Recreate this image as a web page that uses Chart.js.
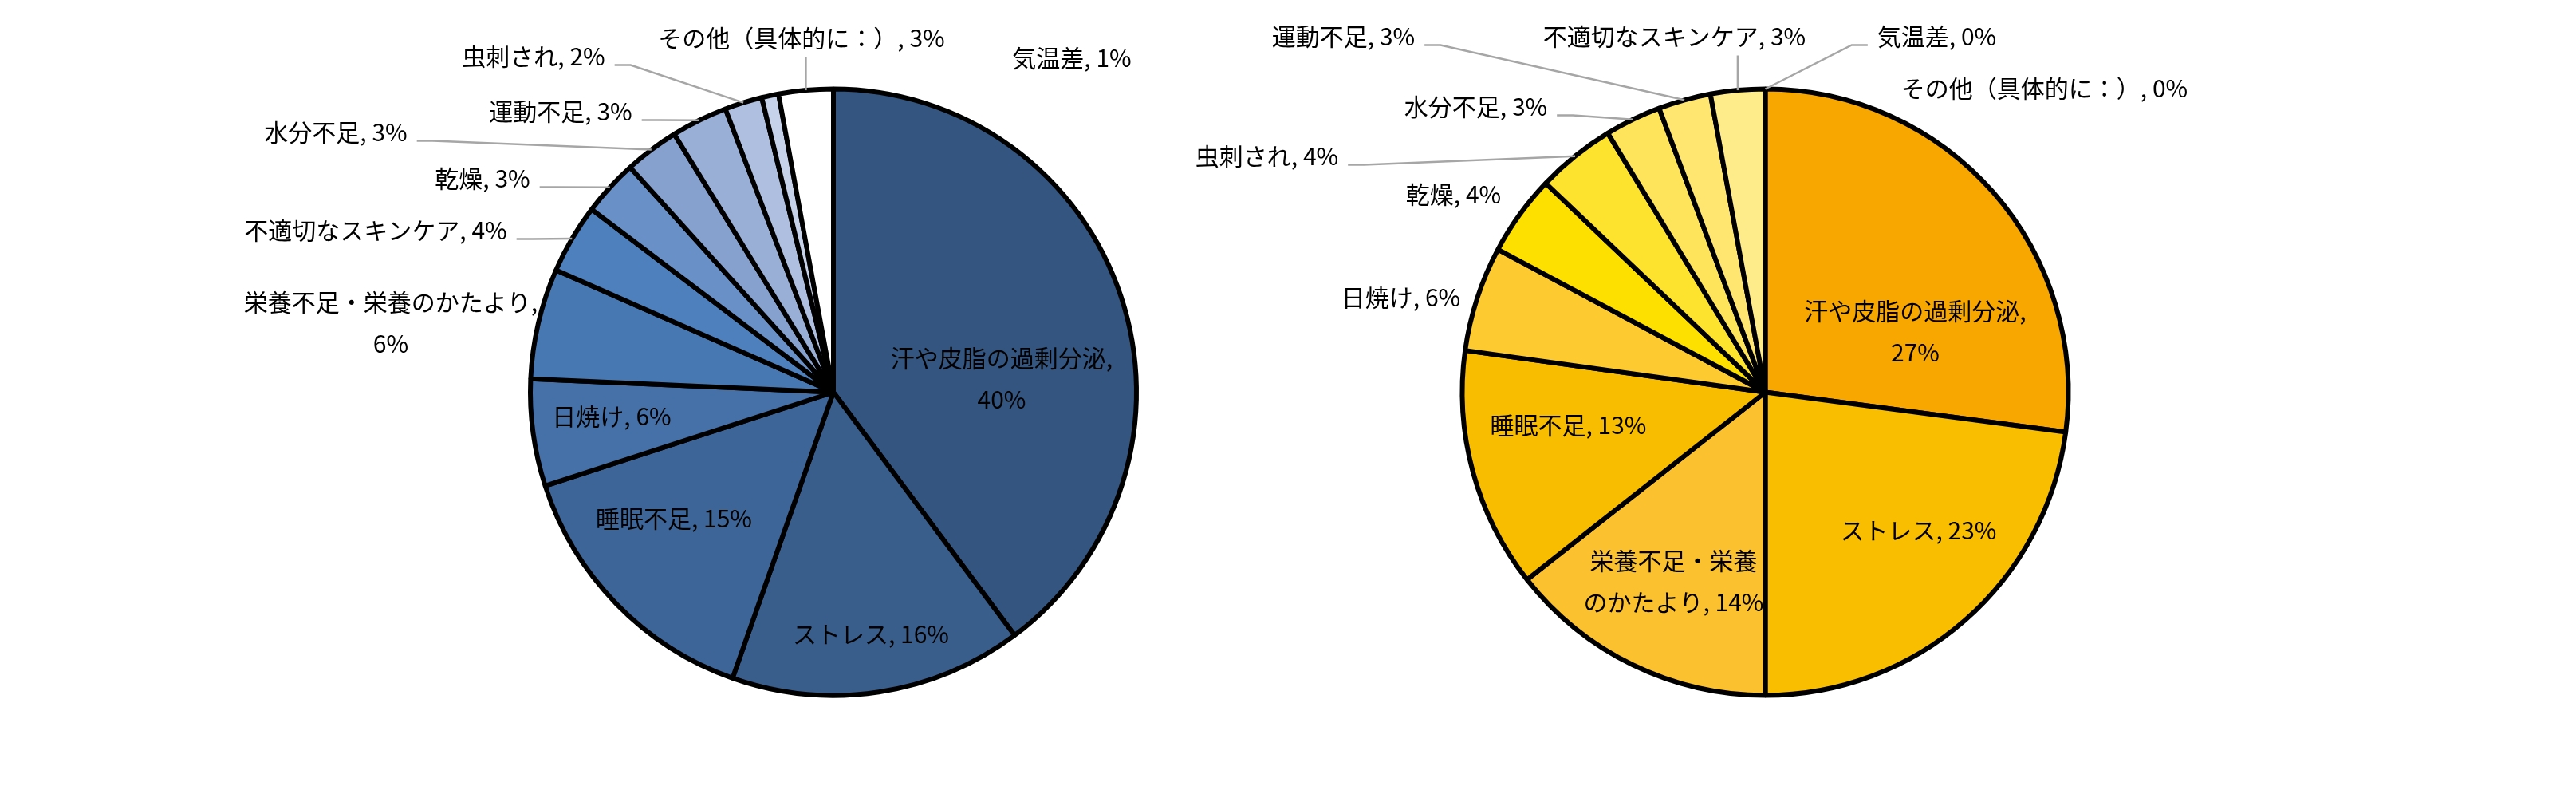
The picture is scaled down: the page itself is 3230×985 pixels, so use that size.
<!DOCTYPE html>
<html lang="ja">
<head>
<meta charset="utf-8">
<title>肌トラブルの原因</title>
<script src="https://cdn.jsdelivr.net/npm/chart.js@4.4.1/dist/chart.umd.min.js"></script>
<style>
  html, body { margin: 0; padding: 0; background: #fff; }
  #wrap { position: relative; width: 3230px; height: 985px; overflow: hidden; }
  #wrap canvas { position: absolute; left: 0; top: 0; }
</style>
</head>
<body>
<div id="wrap">
  <canvas id="leftChart" width="3230" height="985"></canvas>
  <canvas id="rightChart" width="3230" height="985"></canvas>
</div>
<script>
// ==========================================
// DADOS
// ==========================================
const categoriesLeft = ['汗や皮脂の過剰分泌', 'ストレス', '睡眠不足', '日焼け', '栄養不足・栄養のかたより',
  '不適切なスキンケア', '乾燥', '水分不足', '運動不足', '虫刺され', '気温差', 'その他（具体的に：）'];
const valuesLeft = [39.8, 15.6, 14.6, 5.7, 5.9, 3.7, 3.0, 2.9, 3.0, 2.0, 0.9, 2.9];
const colorsLeft = ['#33557f', '#3a5e8b', '#3e6598', '#4571a8', '#4878b1', '#4e80bd',
  '#6990c7', '#86a1cd', '#9aafd6', '#afbfdf', '#c6d2e9', '#ffffff'];

const categoriesRight = ['汗や皮脂の過剰分泌', 'ストレス', '栄養不足・栄養のかたより', '睡眠不足', '日焼け',
  '乾燥', '虫刺され', '水分不足', '運動不足', '不適切なスキンケア', '気温差', 'その他（具体的に：）'];
const valuesRight = [27.1, 22.9, 14.4, 12.8, 5.6, 4.3, 4.2, 3.0, 2.8, 2.9, 0, 0];
const colorsRight = ['#f8a600', '#f9be00', '#fcc12e', '#f9bd00', '#fdcb2f', '#fde000',
  '#fde22e', '#fee45a', '#fee670', '#feeb8a', '#fff1a8', '#fff5c0'];

// posição dos rótulos (deslocamento a partir do centro da pizza), br = quebra de linha
const labelLayoutLeft = [
  { dx: 211, dy: -17, br: 10 },
  { dx: 47, dy: 303 },
  { dx: -200, dy: 158 },
  { dx: -278, dy: 30 },
  { dx: -555, dy: -87, br: 13 },
  { dx: -574, dy: -203, leader: true },
  { dx: -440, dy: -268, leader: true },
  { dx: -624, dy: -326, leader: true },
  { dx: -342, dy: -352, leader: true },
  { dx: -376, dy: -421, leader: true },
  { dx: 299, dy: -419 },
  { dx: -40, dy: -444, leader: true }
];
const labelLayoutRight = [
  { dx: 188, dy: -76, br: 10 },
  { dx: 192, dy: 173 },
  { dx: -115, dy: 237, br: 7 },
  { dx: -247, dy: 41 },
  { dx: -457, dy: -119 },
  { dx: -391, dy: -248 },
  { dx: -625, dy: -296, leader: true },
  { dx: -363, dy: -358, leader: true },
  { dx: -529, dy: -446, leader: true },
  { dx: -114, dy: -446, leader: true },
  { dx: 215, dy: -446, leader: true },
  { dx: 350, dy: -381 }
];

// ==========================================
// PLUGIN DOS RÓTULOS COM LINHAS DE CHAMADA
// ==========================================
const pieLabels = {
  id: 'pieLabels',
  afterDatasetsDraw(chart, args, opts) {
    const ctx = chart.ctx;
    const meta = chart.getDatasetMeta(0);
    const vals = chart.data.datasets[0].data;
    const total = vals.reduce((a, b) => a + b, 0);
    ctx.save();
    ctx.font = opts.font;
    ctx.textAlign = 'center';
    ctx.textBaseline = 'middle';
    meta.data.forEach((arc, i) => {
      const p = arc.getProps(['x', 'y', 'startAngle', 'endAngle', 'outerRadius'], true);
      const pos = opts.layout[i];
      const text = chart.data.labels[i] + ', ' + Math.round(vals[i] / total * 100) + '%';
      const lines = pos.br ? [text.slice(0, pos.br).trim(), text.slice(pos.br).trim()] : [text];
      const cx = p.x + pos.dx;
      const cy = p.y + pos.dy;

      if (pos.leader) {
        const mid = (p.startAngle + p.endAngle) / 2;
        const ex = p.x + Math.cos(mid) * p.outerRadius;
        const ey = p.y + Math.sin(mid) * p.outerRadius;
        const w = Math.max(...lines.map(t => ctx.measureText(t).width));
        const left = cx - w / 2, right = cx + w / 2;
        ctx.strokeStyle = '#a6a6a6';
        ctx.lineWidth = 2.5;
        ctx.beginPath();
        if (ex > left && ex < right) {
          ctx.moveTo(ex, cy + 24);
          ctx.lineTo(ex, ey);
        } else if (ex >= right) {
          ctx.moveTo(right + 12, cy + 11);
          ctx.lineTo(right + 32, cy + 11);
          ctx.lineTo(ex, ey);
        } else {
          ctx.moveTo(left - 12, cy + 11);
          ctx.lineTo(left - 32, cy + 11);
          ctx.lineTo(ex, ey);
        }
        ctx.stroke();
      }

      ctx.fillStyle = '#000';
      lines.forEach((t, k) => {
        ctx.fillText(t, cx, cy + (k - (lines.length - 1) / 2) * opts.lineHeight);
      });
    });
    ctx.restore();
  }
};

function makePie(canvasId, labels, values, colors, layout, padding) {
  const ctx = document.getElementById(canvasId).getContext('2d');
  return new Chart(ctx, {
    type: 'pie',
    data: {
      labels: labels,
      datasets: [{
        data: values,
        backgroundColor: colors,
        borderColor: '#000000',
        borderWidth: 6,
        clip: false
      }]
    },
    options: {
      responsive: false,
      devicePixelRatio: 1,
      animation: false,
      radius: 380,
      layout: { padding: padding },
      events: [],
      plugins: {
        legend: { display: false },
        tooltip: { enabled: false },
        pieLabels: {
          font: '30px "Noto Sans CJK JP", "Noto Sans", sans-serif',
          lineHeight: 52,
          layout: layout
        }
      }
    },
    plugins: [pieLabels]
  });
}

// centro esquerdo ~ (1045, 491.5), centro direito ~ (2213.5, 491.5)
makePie('leftChart', categoriesLeft, valuesLeft, colorsLeft, labelLayoutLeft,
  { left: 660, right: 1800, top: 106.5, bottom: 108.5 });
makePie('rightChart', categoriesRight, valuesRight, colorsRight, labelLayoutRight,
  { left: 1828.5, right: 631.5, top: 106.5, bottom: 108.5 });
</script>
</body>
</html>
